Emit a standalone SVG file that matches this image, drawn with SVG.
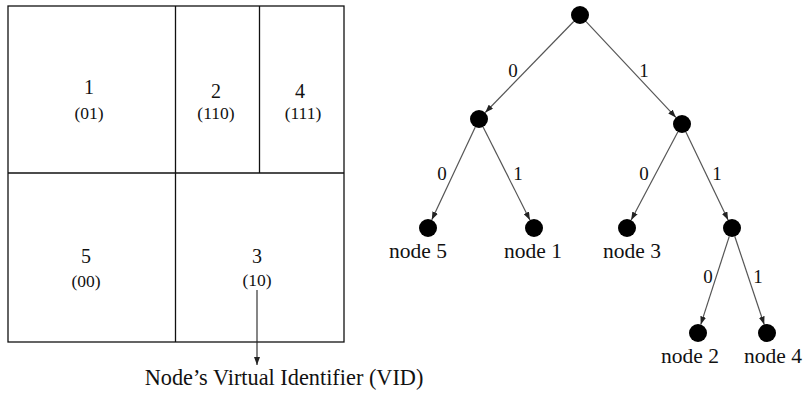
<svg xmlns="http://www.w3.org/2000/svg" width="809" height="395" viewBox="0 0 809 395">
<style>
.t{font-family:"Liberation Serif","Times New Roman",serif;fill:#111;text-anchor:middle}
.big{font-size:20px}
.nd{font-size:21.5px}
.sm{font-size:17.5px}
.lbl{font-size:19px}
.box{fill:none;stroke:#111;stroke-width:1.3}
.e{stroke:#555;stroke-width:1.2;fill:none;marker-end:url(#ah)}
.n{fill:#000}
</style>
<defs>
<marker id="ah" markerUnits="userSpaceOnUse" markerWidth="9" markerHeight="6" refX="8" refY="3" orient="auto">
<path d="M0,0 L8,3 L0,6 z" fill="#222"/>
</marker>
</defs>
<g id="map">
<rect class="box" x="8" y="6" width="336" height="336"/>
<line class="box" x1="8" y1="173" x2="344" y2="173"/>
<line class="box" x1="175.5" y1="6" x2="175.5" y2="342"/>
<line class="box" x1="259.5" y1="6" x2="259.5" y2="173"/>
</g>
<g id="cell1"><text class="t big" x="89" y="94">1</text><text class="t sm" x="89" y="119">(01)</text></g>
<g id="cell2"><text class="t big" x="216" y="98">2</text><text class="t sm" x="216" y="119">(110)</text></g>
<g id="cell4"><text class="t big" x="300" y="98">4</text><text class="t sm" x="303" y="119">(111)</text></g>
<g id="cell5"><text class="t big" x="86" y="263">5</text><text class="t sm" x="86" y="287">(00)</text></g>
<g id="cell3"><text class="t big" x="257" y="263">3</text><text class="t sm" x="257" y="286">(10)</text></g>
<g id="vid">
<line x1="257" y1="290" x2="257" y2="365" stroke="#222" stroke-width="1.1" marker-end="url(#ah)"/>
<text class="t" font-size="22.3" x="284" y="385">Node’s Virtual Identifier (VID)</text>
</g>
<g id="connectors">
<line class="e" x1="573.7" y1="21.5" x2="485.3" y2="112.5"/>
<line class="e" x1="586.1" y1="21.6" x2="675.9" y2="117.4"/>
<line class="e" x1="475.2" y1="127.2" x2="431.8" y2="219.8"/>
<line class="e" x1="483.1" y1="127" x2="529.9" y2="220"/>
<line class="e" x1="677.8" y1="132" x2="631.2" y2="220"/>
<line class="e" x1="685.9" y1="132.1" x2="728.1" y2="219.9"/>
<line class="e" x1="729.2" y1="236.6" x2="700.8" y2="324.4"/>
<line class="e" x1="734.8" y1="236.5" x2="764.2" y2="324.5"/>
<text class="t lbl" x="513" y="77">0</text>
<text class="t lbl" x="644" y="77">1</text>
<text class="t lbl" x="442" y="180">0</text>
<text class="t lbl" x="518" y="180">1</text>
<text class="t lbl" x="644" y="180">0</text>
<text class="t lbl" x="717" y="180">1</text>
<text class="t lbl" x="708" y="283">0</text>
<text class="t lbl" x="758" y="283">1</text>
</g>
<g id="root"><circle class="n" cx="580" cy="15" r="9"/></g>
<g id="n0"><circle class="n" cx="479" cy="119" r="9"/></g>
<g id="n1"><circle class="n" cx="682" cy="124" r="9"/></g>
<g id="node5"><circle class="n" cx="428" cy="228" r="9"/><text class="t nd" x="418" y="258">node 5</text></g>
<g id="node1"><circle class="n" cx="534" cy="228" r="9"/><text class="t nd" x="533" y="258">node 1</text></g>
<g id="node3"><circle class="n" cx="627" cy="228" r="9"/><text class="t nd" x="632" y="258">node 3</text></g>
<g id="n11"><circle class="n" cx="732" cy="228" r="9"/></g>
<g id="node2"><circle class="n" cx="698" cy="333" r="9"/><text class="t nd" x="690" y="363">node 2</text></g>
<g id="node4"><circle class="n" cx="767" cy="333" r="9"/><text class="t nd" x="773" y="363">node 4</text></g>
</svg>
